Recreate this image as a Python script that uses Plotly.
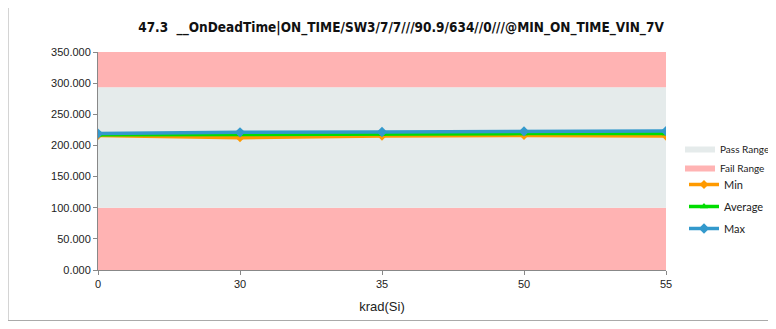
import plotly.graph_objects as go

categories = ["0", "30", "35", "50", "55"]
min_vals = [216.0, 212.5, 215.0, 216.0, 215.0]
avg_vals = [217.0, 218.0, 218.5, 219.0, 219.0]
max_vals = [219.0, 221.0, 221.5, 222.5, 223.0]
pass_low = 100.0
pass_high = 293.5
axis_max = 350.0
y_ticks = [0, 50, 100, 150, 200, 250, 300, 350]

xs = list(range(len(categories)))
n = len(categories)

fig = go.Figure()
fig.add_trace(go.Scatter(x=xs, y=[pass_low] * n, mode="none", fill="tozeroy",
                         fillcolor="#FFB3B3", showlegend=False, legendgroup="fail",
                         hoverinfo="skip"))
fig.add_trace(go.Scatter(x=xs, y=[pass_high] * n, mode="none", fill="tonexty",
                         fillcolor="#E5EBEB", name="Pass Range", legend="legend",
                         hoverinfo="skip"))
fig.add_trace(go.Scatter(x=xs, y=[axis_max] * n, mode="none", fill="tonexty",
                         fillcolor="#FFB3B3", name="Fail Range", legend="legend",
                         legendgroup="fail", hoverinfo="skip"))

fig.add_trace(go.Scatter(x=xs, y=min_vals, mode="lines+markers", name="Min",
                         line=dict(color="#FF9A00", width=3.5),
                         marker=dict(symbol="diamond", size=7, color="#FF9A00"),
                         legend="legend2", legendgroup="min"))
fig.add_trace(go.Scatter(x=xs, y=avg_vals, mode="lines+markers", name="Average",
                         line=dict(color="#00DD00", width=3.5),
                         marker=dict(symbol="triangle-up", size=7, color="#00DD00"),
                         legend="legend2", legendgroup="avg"))
fig.add_trace(go.Scatter(x=xs, y=max_vals, mode="lines+markers", name="Max",
                         line=dict(color="#3399CC", width=3.5),
                         marker=dict(symbol="diamond", size=8, color="#3399CC"),
                         legend="legend2", legendgroup="max"))

# page is offset by 8px (body margin); work in page pixel coordinates
OFF = 8
W, H = 760, 313
L, R, T, B = 98 - OFF, W - (666 - OFF), 52 - OFF, H - (270 - OFF)
pw, ph = W - L - R, H - T - B

def px(x):
    return (x - OFF - L) / pw

def py(y):
    return (H - B - (y - OFF)) / ph

fig.update_layout(
    width=W, height=H,
    margin=dict(l=L, r=R, t=T, b=B, autoexpand=False),
    paper_bgcolor="white", plot_bgcolor="white",
    font=dict(family="Liberation Sans, Arial, sans-serif", size=11, color="#222222"),
    title=dict(text="<b>47.3  __OnDeadTime|ON_TIME/SW3/7/7///90.9/634//0///@MIN_ON_TIME_VIN_7V</b>",
               x=(401 - OFF) / W, xref="container", xanchor="center",
               y=1 - (27 - OFF) / H, yanchor="middle",
               font=dict(family="DejaVu Sans Condensed, Liberation Sans Narrow, Liberation Sans, sans-serif",
                         size=13.5, color="#111111")),
    xaxis=dict(range=[0, n - 1], tickmode="array", tickvals=xs, ticktext=categories,
               showgrid=False, zeroline=False, showline=True, linecolor="#888888",
               ticks="outside", ticklen=4, tickcolor="#888888",
               title=dict(text="krad(Si)", font=dict(size=13), standoff=12)),
    yaxis=dict(range=[0, axis_max], tickmode="array", tickvals=y_ticks,
               tickformat=".3f", showgrid=False, zeroline=False, showline=True,
               linecolor="#888888", ticks="outside", ticklen=4, tickcolor="#888888"),
    legend=dict(x=px(680), xanchor="left", y=py(135), yanchor="top",
                bgcolor="rgba(0,0,0,0)", tracegroupgap=0, itemwidth=30,
                font=dict(family="Lato, Liberation Sans, sans-serif", size=10, color="#222222")),
    legend2=dict(x=px(684), xanchor="left", y=py(170), yanchor="top",
                 bgcolor="rgba(0,0,0,0)", tracegroupgap=3, itemwidth=30,
                 traceorder="grouped",
                 font=dict(family="Lato, Liberation Sans, sans-serif", size=11, color="#222222")),
    shapes=[dict(type="rect", xref="paper", yref="paper",
                 x0=px(8), x1=px(790), y0=py(320.5), y1=py(4),
                 line=dict(color="#AAAAAA", width=1), fillcolor="rgba(0,0,0,0)",
                 layer="below")],
)

fig.write_html("out.html")
